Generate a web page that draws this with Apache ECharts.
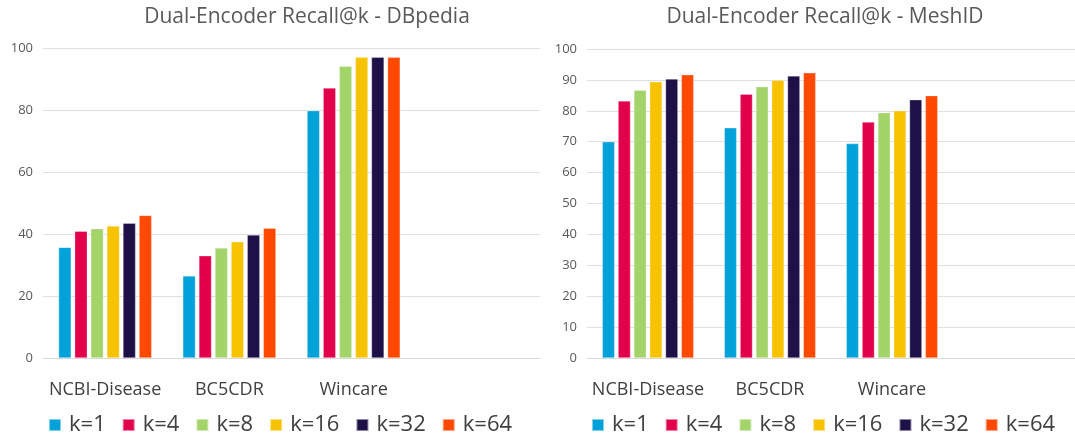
<!DOCTYPE html>
<html>
<head>
<meta charset="utf-8">
<script src="https://cdn.jsdelivr.net/npm/echarts@6/dist/echarts.min.js"></script>
<style>
html,body{margin:0;padding:0;background:#fff;}
#chart{width:1075px;height:439px;}
</style>
</head>
<body>
<div id="chart"></div>
<script>
const categories = ['NCBI-Disease', 'BC5CDR', 'Wincare', ''];
const kLabels = ['k=1', 'k=4', 'k=8', 'k=16', 'k=32', 'k=64'];
const colors = ['#00A2D9', '#E2004B', '#A3D46A', '#F7C200', '#1E1148', '#FF4800'];

const titleLeft = 'Dual-Encoder Recall@k - DBpedia';
const titleRight = 'Dual-Encoder Recall@k - MeshID';

// DBpedia values per k (NCBI-Disease, BC5CDR, Wincare)
const dbK1 = [35.7, 26.5, 79.8];
const dbK4 = [40.9, 33.0, 87.1];
const dbK8 = [41.7, 35.5, 94.1];
const dbK16 = [42.6, 37.5, 97.0];
const dbK32 = [43.5, 39.7, 97.0];
const dbK64 = [46.0, 41.9, 97.0];

// MeshID values per k
const meK1 = [70.0, 74.5, 69.4];
const meK4 = [83.2, 85.4, 76.4];
const meK8 = [86.7, 87.8, 79.4];
const meK16 = [89.4, 89.9, 80.0];
const meK32 = [90.3, 91.3, 83.6];
const meK64 = [91.7, 92.3, 84.9];

const dbSeries = [dbK1, dbK4, dbK8, dbK16, dbK32, dbK64];
const meSeries = [meK1, meK4, meK8, meK16, meK32, meK64];

const FONT = '"Open Sans", "Noto Sans", sans-serif';

function makeSeries(arrs, axisIdx) {
  return arrs.map((d, i) => ({
    name: kLabels[i],
    type: 'bar',
    xAxisIndex: axisIdx,
    yAxisIndex: axisIdx,
    data: d,
    barGap: '27%',
    barCategoryGap: '25%',
    itemStyle: { color: colors[i], borderColor: 'rgba(255,255,255,0.5)', borderWidth: 0.6 },
    emphasis: { disabled: true },
    animation: false
  }));
}

const chart = echarts.init(document.getElementById('chart'), null, { renderer: 'canvas' });

const legendCommon = {
  data: kLabels,
  orient: 'horizontal',
  width: 484,
  padding: 0,
  itemWidth: 12,
  itemHeight: 12,
  itemGap: 16,
  icon: 'rect',
  textStyle: { fontFamily: FONT, fontSize: 22, color: '#404040', padding: [0, 0, 0, 3] },
  selectedMode: false
};

const xCommon = {
  type: 'category',
  data: categories,
  axisLine: { show: true, lineStyle: { color: '#d9d9d9' } },
  axisTick: { show: false },
  axisLabel: { fontFamily: FONT, fontSize: 18, color: '#404040', margin: 23, interval: 0 }
};

const yAxisLabel = { fontFamily: FONT, fontSize: 13, color: '#595959', margin: 10 };

const option = {
  backgroundColor: '#fff',
  color: colors,
  animation: false,
  title: [
    { text: titleLeft, left: 302, top: 2, textAlign: 'center',
      textStyle: { fontFamily: FONT, fontSize: 21, fontWeight: 'normal', color: '#595959' } },
    { text: titleRight, left: 820, top: 2, textAlign: 'center',
      textStyle: { fontFamily: FONT, fontSize: 21, fontWeight: 'normal', color: '#595959' } }
  ],
  legend: [
    Object.assign({ left: 48, top: 414 }, legendCommon),
    Object.assign({ left: 591, top: 414 }, legendCommon)
  ],
  grid: [
    { left: 43, right: 535, top: 48, bottom: 81 },
    { left: 587, right: 0, top: 49, bottom: 81 }
  ],
  xAxis: [
    Object.assign({ gridIndex: 0 }, xCommon),
    Object.assign({ gridIndex: 1 }, xCommon)
  ],
  yAxis: [
    { type: 'value', gridIndex: 0, min: 0, max: 100, interval: 20,
      axisLine: { show: false }, axisTick: { show: false },
      splitLine: { lineStyle: { color: '#e0e0e0' } }, axisLabel: yAxisLabel },
    { type: 'value', gridIndex: 1, min: 0, max: 100, interval: 10,
      axisLine: { show: false }, axisTick: { show: false },
      splitLine: { lineStyle: { color: '#e0e0e0' } }, axisLabel: yAxisLabel }
  ],
  series: makeSeries(dbSeries, 0).concat(makeSeries(meSeries, 1))
};

chart.setOption(option);
</script>
</body>
</html>
